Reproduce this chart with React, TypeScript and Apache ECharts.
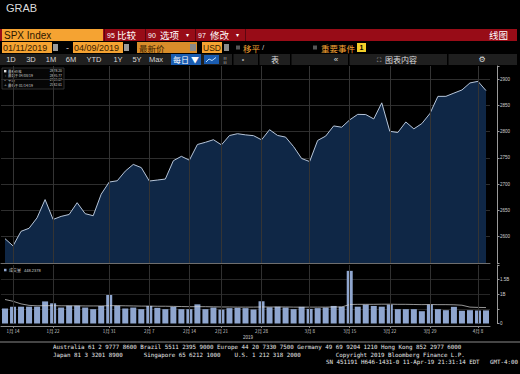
import React, { useEffect, useRef } from "react";
import * as echarts from "echarts";

const dates = [
  "01/11/19","01/14/19","01/15/19","01/16/19","01/17/19","01/18/19","01/22/19","01/23/19","01/24/19","01/25/19",
  "01/28/19","01/29/19","01/30/19","01/31/19","02/01/19","02/04/19","02/05/19","02/06/19","02/07/19","02/08/19",
  "02/11/19","02/12/19","02/13/19","02/14/19","02/15/19","02/19/19","02/20/19","02/21/19","02/22/19","02/25/19",
  "02/26/19","02/27/19","02/28/19","03/01/19","03/04/19","03/05/19","03/06/19","03/07/19","03/08/19","03/11/19",
  "03/12/19","03/13/19","03/14/19","03/15/19","03/18/19","03/19/19","03/20/19","03/21/19","03/22/19","03/25/19",
  "03/26/19","03/27/19","03/28/19","03/29/19","04/01/19","04/02/19","04/03/19","04/04/19","04/05/19","04/08/19",
  "04/09/19"
];

const price = [
  2596.26, 2582.61, 2610.3, 2616.1, 2635.96, 2670.71, 2632.9, 2638.7, 2642.33, 2664.76,
  2643.85, 2640.0, 2681.05, 2704.1, 2706.53, 2724.87, 2737.7, 2731.61, 2706.05, 2707.88,
  2709.8, 2744.73, 2753.03, 2745.73, 2775.6, 2779.76, 2784.7, 2774.88, 2792.67, 2796.11,
  2793.9, 2792.38, 2784.49, 2803.69, 2792.81, 2789.65, 2771.45, 2748.93, 2743.07, 2783.3,
  2791.52, 2810.92, 2808.48, 2822.48, 2832.94, 2832.57, 2824.23, 2854.88, 2800.71, 2798.36,
  2818.46, 2805.37, 2815.44, 2834.4, 2867.19, 2867.24, 2873.4, 2879.39, 2892.74, 2895.77,
  2878.2
];

// volume in millions
const volume = [
  510, 570, 575, 575, 575, 755, 690, 545, 610, 610,
  545, 490, 600, 975, 610, 510, 545, 490, 600, 535,
  490, 570, 490, 490, 655, 490, 545, 475, 525, 535,
  525, 475, 760, 555, 575, 545, 490, 570, 500, 525,
  545, 600, 575, 1800, 575, 645, 600, 575, 645, 490,
  490, 490, 420, 645, 490, 455, 570, 435, 455, 445,
  448.2378
];

const volumeMA = [
  820, 760, 670, 620, 605, 610, 610, 605, 605, 605,
  600, 600, 600, 610, 610, 605, 600, 595, 595, 590,
  590, 585, 580, 575, 575, 575, 570, 565, 565, 560,
  560, 560, 565, 565, 565, 565, 560, 560, 560, 560,
  560, 565, 565, 650, 655, 655, 655, 660, 660, 655,
  655, 650, 645, 650, 645, 645, 640, 625, 560, 550,
  545
];

const tickIdx = [1, 6, 13, 18, 23, 27, 32, 38, 43, 48, 53, 59];
const tickLabels = ["1月 14", "1月 22", "1月 31", "2月 7", "2月 14", "2月 21", "2月 28", "3月 8", "3月 15", "3月 22", "3月 29", "4月 8"];

const SANS = "'Liberation Sans', 'Noto Sans CJK SC', sans-serif";
const CJK = "'Noto Sans CJK SC', 'Liberation Sans', sans-serif";
const MONO = "'DejaVu Sans Mono', 'Liberation Mono', monospace";

const ORANGE = "#f5a332";
const RED = "#980c17";

function R(x: number, y: number, w: number, h: number, fill: string, extra: any = {}) {
  return { type: "rect", silent: true, shape: { x, y, width: w, height: h }, style: { fill, ...extra } };
}
function T(x: number, y: number, text: string, size: number, fill: string, opts: any = {}) {
  return {
    type: "text",
    silent: true,
    x,
    y,
    style: {
      text,
      fill,
      fontSize: size,
      fontFamily: opts.family || CJK,
      fontWeight: opts.weight || "normal",
      textAlign: opts.align || "left",
      textVerticalAlign: "middle",
      align: opts.align || "left",
      verticalAlign: "middle",
    },
  };
}

export default function App() {
  const ref = useRef<HTMLDivElement>(null);

  useEffect(() => {
    if (!ref.current) return;
    const chart = echarts.init(ref.current, null, { renderer: "svg" });

    const last = price[price.length - 1];
    const maxV = Math.max(...price);
    const minV = Math.min(...price);
    const avg = price.reduce((a, b) => a + b, 0) / price.length;
    const maxD = dates[price.indexOf(maxV)];
    const minD = dates[price.indexOf(minV)];
    const lastVol = volume[volume.length - 1];

    const isTick = (i: number) => tickIdx.indexOf(i) >= 0;

    const vGrid = tickIdx.map((i) => ({ xAxis: dates[i] }));

    const LG = 3.4;
    const graphic: any[] = [
      // title
      T(6, 8, "GRAB", 11, "#dcdcdc", { family: SANS }),
      // row 1
      R(0, 29, 517, 12, RED),
      R(2, 29, 101, 12, ORANGE),
      T(4, 35, "SPX Index", 10, "#2b1700", { family: SANS }),
      R(104, 29, 1, 12, "#5c0610"),
      T(107, 35, "95", 7, "#ffffff", { family: SANS }),
      T(117, 35, "比较", 9.5, "#ffffff"),
      R(145, 29, 1, 12, "#5c0610"),
      T(148, 35, "90", 7, "#ffffff", { family: SANS }),
      T(160, 35, "选项", 9.5, "#ffffff"),
      T(186, 35, "▾", 6, "#ffffff", { family: SANS }),
      R(195, 29, 1, 12, "#5c0610"),
      T(198, 35, "97", 7, "#ffffff", { family: SANS }),
      T(210, 35, "修改", 9.5, "#ffffff"),
      T(236, 35, "▾", 6, "#ffffff", { family: SANS }),
      R(245, 29, 1, 12, "#5c0610"),
      T(508, 35, "线图", 9.5, "#ffffff", { align: "right" }),
      // row 2
      R(2, 42, 50, 11, ORANGE),
      T(3, 47.5, "01/11/2019", 9, "#3a1e00", { family: SANS }),
      R(53, 44, 5, 7, "#9a9a9a"),
      T(66, 47.5, "-", 9, "#cccccc", { family: SANS }),
      R(73, 42, 50, 11, ORANGE),
      T(74, 47.5, "04/09/2019", 9, "#3a1e00", { family: SANS }),
      R(124, 44, 5, 7, "#9a9a9a"),
      R(137, 42, 60, 11, "#d88d2a"),
      T(139, 47.5, "最新价", 8.5, "#3a1e00"),
      R(190, 44, 6, 7, "#8a8a8a"),
      R(202, 42, 20, 11, ORANGE),
      T(203, 47.5, "USD", 8.5, "#3a1e00", { family: SANS }),
      R(224, 44, 5, 7, "#8a8a8a"),
      R(236, 45.5, 4, 4, "#555555"),
      T(243, 47.5, "移平", 8.5, ORANGE),
      T(262, 47.5, "/", 8, "#bbbbbb", { family: SANS }),
      R(313, 45.5, 4, 4, "#555555"),
      T(321, 47.5, "重要事件", 8.5, ORANGE),
      R(357, 43, 9, 9, "#f3cf2a"),
      T(361.5, 47.5, "1", 7, "#000000", { family: SANS, align: "center", weight: "bold" }),
      // row 3
      R(0, 54, 517, 11, "#1f1f1f"),
      T(11, 59.5, "1D", 7.5, "#d8d8d8", { family: SANS, align: "center" }),
      T(31, 59.5, "3D", 7.5, "#d8d8d8", { family: SANS, align: "center" }),
      T(51, 59.5, "1M", 7.5, "#d8d8d8", { family: SANS, align: "center" }),
      T(71, 59.5, "6M", 7.5, "#d8d8d8", { family: SANS, align: "center" }),
      T(94, 59.5, "YTD", 7.5, "#d8d8d8", { family: SANS, align: "center" }),
      T(118, 59.5, "1Y", 7.5, "#d8d8d8", { family: SANS, align: "center" }),
      T(137, 59.5, "5Y", 7.5, "#d8d8d8", { family: SANS, align: "center" }),
      T(156, 59.5, "Max", 7.5, "#d8d8d8", { family: SANS, align: "center" }),
      R(171, 54, 30, 11, "#1a5cb0"),
      T(186, 59.5, "每日 ▼", 8, "#ffffff", { align: "center" }),
      R(204, 55, 15, 9, "#1a5cb0"),
      {
        type: "polyline",
        silent: true,
        shape: { points: [[206, 62], [209, 59], [212, 60.5], [216, 57.5]] },
        style: { stroke: "#bfe0ff", lineWidth: 1, fill: "none" },
      },
      T(225, 59.5, "¦¦", 7, "#aaaaaa", { family: SANS, align: "center" }),
      R(232, 54, 1.5, 11, "#000000"),
      T(243, 59.5, "•", 7, "#aaaaaa", { family: SANS, align: "center" }),
      R(258, 54, 1.5, 11, "#000000"),
      T(275, 59.5, "表", 8, "#dddddd", { align: "center" }),
      R(290, 54, 1.5, 11, "#000000"),
      T(336, 59.5, "«", 8, "#dddddd", { family: SANS, align: "center" }),
      R(348, 54, 1.5, 11, "#000000"),
      T(379, 59.5, "⛶", 6, "#dddddd", { family: "'DejaVu Sans'", align: "center" }),
      T(385, 59.5, "图表内容", 8, "#dddddd"),
      R(447, 54, 1.5, 11, "#000000"),
      T(482, 59.5, "⚙", 8, "#dddddd", { family: "'DejaVu Sans'", align: "center" }),
      // price legend box
      R(2, 68, 62, 21, "#060606", { stroke: "#3a3a3a", lineWidth: 0.8 }),
      R(4, 70, 2.4, 2.4, "#e0e0e0"),
      T(8, 71.2, "最新价格", LG, "#cfcfcf"),
      T(62, 71.2, last.toFixed(2), LG, "#cfcfcf", { family: SANS, align: "right" }),
      T(4, 75.8, "⊤", LG, "#cfcfcf", { family: "'DejaVu Sans'" }),
      T(8, 75.8, "最高于 " + maxD, LG, "#cfcfcf"),
      T(62, 75.8, maxV.toFixed(2), LG, "#cfcfcf", { family: SANS, align: "right" }),
      T(4, 80.4, "+", LG, "#cfcfcf", { family: SANS }),
      T(8, 80.4, "平均", LG, "#cfcfcf"),
      T(62, 80.4, avg.toFixed(2), LG, "#cfcfcf", { family: SANS, align: "right" }),
      T(4, 85, "⊥", LG, "#cfcfcf", { family: "'DejaVu Sans'" }),
      T(8, 85, "最低于 " + minD, LG, "#cfcfcf"),
      T(62, 85, minV.toFixed(2), LG, "#cfcfcf", { family: SANS, align: "right" }),
      // volume legend
      R(4, 268.8, 2.5, 2.5, "#8fa6cf"),
      T(9, 270, "成交量", 4, "#cfcfcf"),
      T(24, 270, lastVol.toFixed(4), 4, "#cfcfcf", { family: SANS }),
      // year label
      T(248, 337, "2019", 4.5, "#cccccc", { family: SANS, align: "center" }),
      // footer
      { type: "line", silent: true, shape: { x1: 0, y1: 342, x2: 520, y2: 342 }, style: { stroke: "#8a8a8a", lineWidth: 1 } },
      T(53, 347, "Australia 61 2 9777 8600 Brazil 5511 2395 9000 Europe 44 20 7330 7500 Germany 49 69 9204 1210 Hong Kong 852 2977 6000", 5.8, "#e8e8e8", { family: MONO }),
      T(53, 354.5, "Japan 81 3 3201 8900      Singapore 65 6212 1000    U.S. 1 212 318 2000          Copyright 2019 Bloomberg Finance L.P.", 5.8, "#e8e8e8", { family: MONO }),
      T(518, 361.5, "SN 451191 H646-1431-0 11-Apr-19 21:31:14 EDT   GMT-4:00", 5.8, "#e8e8e8", { family: MONO, align: "right" }),
    ];

    const option: any = {
      animation: false,
      backgroundColor: "#000000",
      textStyle: { fontFamily: SANS },
      grid: [
        { left: 1, width: 489, top: 66, height: 197 },
        { left: 1, width: 489, top: 265, height: 58.5 },
      ],
      xAxis: [
        {
          type: "category",
          gridIndex: 0,
          data: dates,
          boundaryGap: true,
          axisLine: { show: true, lineStyle: { color: "#6e6e6e", width: 1 } },
          axisTick: { show: false },
          axisLabel: { show: false },
          splitLine: { show: false },
        },
        {
          type: "category",
          gridIndex: 1,
          data: dates,
          boundaryGap: true,
          offset: 2.5,
          axisLine: { show: true, onZero: false, lineStyle: { color: "#8a8a8a", width: 1 } },
          axisTick: {
            show: true,
            alignWithLabel: true,
            length: 2,
            interval: (i: number) => isTick(i),
            lineStyle: { color: "#8a8a8a" },
          },
          axisLabel: {
            interval: (i: number) => isTick(i),
            formatter: (_v: string, i: number) => {
              const k = tickIdx.indexOf(i);
              return k >= 0 ? tickLabels[k] : "";
            },
            fontSize: 4.5,
            color: "#cccccc",
            margin: 2.5,
            fontFamily: CJK,
          },
          splitLine: { show: false },
        },
      ],
      yAxis: [
        {
          type: "value",
          gridIndex: 0,
          position: "right",
          offset: 7,
          min: 2550,
          max: 2925,
          interval: 50,
          z: 3,
          axisLine: { show: true, lineStyle: { color: "#9a9a9a" } },
          axisTick: { show: true, length: 2.5, lineStyle: { color: "#9a9a9a" } },
          axisLabel: {
            fontSize: 4.5,
            color: "#d0d0d0",
            margin: 3,
            formatter: (v: number) => (v % 50 === 0 && v > 2550 ? String(v) : ""),
          },
          splitLine: { show: true, showMinLine: false, showMaxLine: false, lineStyle: { color: "#2e2e2e", width: 1 } },
        },
        {
          type: "value",
          gridIndex: 1,
          position: "right",
          offset: 7,
          min: 0,
          max: 2000,
          interval: 500,
          axisLine: { show: true, lineStyle: { color: "#9a9a9a" } },
          axisTick: { show: true, length: 2.5, lineStyle: { color: "#9a9a9a" } },
          axisLabel: {
            fontSize: 4.5,
            color: "#d0d0d0",
            margin: 3,
            formatter: (v: number) => (v === 0 ? "0" : v === 1000 ? "1B" : v === 1500 ? "1.5B" : ""),
          },
          splitLine: { show: true, showMinLine: false, showMaxLine: false, lineStyle: { color: "#262626", width: 1 } },
        },
      ],
      series: [
        {
          type: "line",
          name: "SPX",
          xAxisIndex: 0,
          yAxisIndex: 0,
          data: price,
          symbol: "none",
          lineStyle: { color: "#b7c6da", width: 1 },
          areaStyle: { color: "#0f2746", opacity: 1, origin: "start" },
          markLine: {
            silent: true,
            symbol: ["none", "none"],
            lineStyle: { color: "#343434", width: 1, type: "solid" },
            label: { show: false },
            data: [
              ...vGrid,
              {
                yAxis: last,
                lineStyle: { opacity: 0 },
                label: {
                  show: true,
                  position: "end",
                  distance: 8,
                  formatter: last.toFixed(2),
                  fontSize: 4.5,
                  color: "#000000",
                  backgroundColor: "#e8e8e8",
                  padding: [0.8, 1.5],
                },
              },
            ],
          },
        },
        {
          type: "bar",
          name: "成交量",
          xAxisIndex: 1,
          yAxisIndex: 1,
          data: volume,
          barWidth: 6,
          itemStyle: { color: "#8fa6cf" },
          markLine: {
            silent: true,
            symbol: ["none", "none"],
            lineStyle: { color: "#303030", width: 1, type: "solid" },
            label: { show: false },
            data: [
              ...vGrid,
              {
                yAxis: lastVol,
                lineStyle: { opacity: 0 },
                label: {
                  show: true,
                  position: "end",
                  distance: 7.5,
                  formatter: lastVol.toFixed(4) + "M",
                  fontSize: 3.8,
                  color: "#000000",
                  backgroundColor: "#e8e8e8",
                  padding: [0.8, 1],
                },
              },
            ],
          },
        },
        {
          type: "line",
          name: "MA",
          xAxisIndex: 1,
          yAxisIndex: 1,
          data: volumeMA,
          symbol: "none",
          z: 3,
          lineStyle: { color: "#d6d6d6", width: 0.7 },
        },
      ],
      graphic,
    };

    chart.setOption(option);
    return () => chart.dispose();
  }, []);

  return (
    <div
      ref={ref}
      style={{ position: "fixed", left: 0, top: 0, width: 520, height: 374, background: "#000" }}
    />
  );
}
